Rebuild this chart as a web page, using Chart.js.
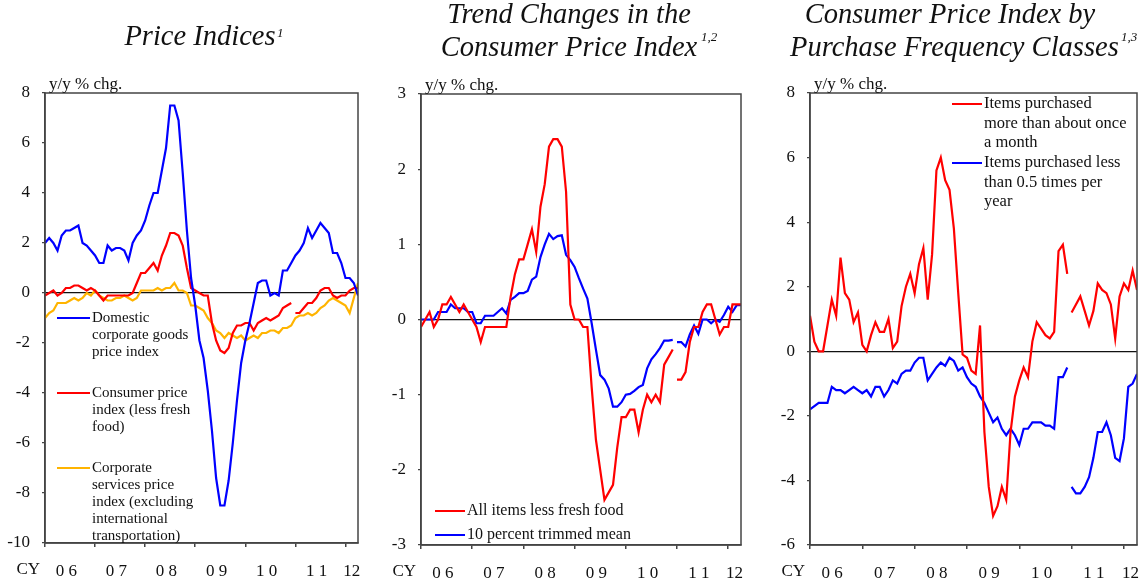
<!DOCTYPE html>
<html>
<head>
<meta charset="utf-8">
<script src="https://cdn.jsdelivr.net/npm/chart.js@4.4.1/dist/chart.umd.min.js"></script>
<style>
  body { margin: 0; background: #fff; }
  #wrap { position: relative; width: 1141px; height: 581px; overflow: hidden; background: #fff; }
  canvas { position: absolute; top: 0; }
  .title { position: absolute; font-family: 'Liberation Serif', serif; font-style: italic; font-size: 28.5px; line-height: 33px; text-align: center; color: #111; white-space: nowrap; }
  .sup { position: absolute; font-family: 'Liberation Serif', serif; font-style: italic; font-size: 13px; color: #111; }
</style>
</head>
<body>
<div id="wrap">
  <canvas id="c1" width="380" height="581" style="left:0"></canvas>
  <canvas id="c2" width="380" height="581" style="left:380px"></canvas>
  <canvas id="c3" width="381" height="581" style="left:760px"></canvas>

  <div class="title" style="left:50px; top:19px; width:300px;">Price Indices</div>
  <span class="sup" style="left:277px; top:25px;">1</span>
  <div class="title" style="left:419px; top:-3px; width:300px;">Trend Changes in the<br>Consumer Price Index</div>
  <span class="sup" style="left:701px; top:29px;">1,2</span>
  <div class="title" style="left:790px; top:-3px; width:320px;">Consumer Price Index by<br>Purchase Frequency Classes</div>
  <span class="sup" style="left:1121px; top:29px;">1,3</span>
</div>
<script>
// months since Jan 2006 (0 = 2006/1 ... 75 = 2012/4)
const months = Array.from({ length: 76 }, (_, i) => i);
const yearTicks = [0, 12, 24, 36, 48, 60, 72];
const yearLabelPos = [5.1, 17.1, 29.1, 41.1, 53.1, 65.1, 73.5];
const yearLabels = ['0 6', '0 7', '0 8', '0 9', '1 0', '1 1', '12'];
// CPI based series are re-based from Jan 2011: no line between Dec 2010 and Jan 2011
const rebaseAfter = 59;

// Panel 1: Price Indices
const cgpi = [2.0, 2.2, 2.0, 1.7, 2.3, 2.5, 2.5, 2.6, 2.7, 2.0, 1.9, 1.7, 1.5, 1.2, 1.2, 1.9, 1.7, 1.8, 1.8, 1.7,
  1.3, 2.0, 2.3, 2.5, 2.9, 3.5, 4.0, 4.0, 4.9, 5.8, 7.5, 7.5, 6.9, 4.8, 2.5, 0.6, -0.5, -1.9, -2.6, -3.9,
  -5.5, -7.4, -8.5, -8.5, -7.5, -6.0, -4.3, -2.8, -1.9, -1.2, -0.4, 0.4, 0.5, 0.5, -0.1, 0.0, -0.1, 0.9, 0.9, 1.2,
  1.5, 1.7, 2.0, 2.6, 2.2, 2.5, 2.8, 2.6, 2.4, 1.6, 1.6, 1.2, 0.6, 0.6, 0.4, -0.1];
const cpiCore1 = [-0.1, 0.0, 0.1, -0.1, 0.0, 0.2, 0.2, 0.3, 0.3, 0.2, 0.1, 0.2, 0.1, -0.1, -0.3, -0.1, -0.1, -0.1, -0.1, -0.1,
  -0.1, 0.0, 0.4, 0.8, 0.8, 1.0, 1.2, 0.9, 1.5, 1.9, 2.4, 2.4, 2.3, 1.9, 1.0, 0.2, 0.1, 0.0, -0.1, -0.1,
  -1.2, -1.9, -2.3, -2.4, -2.2, -1.6, -1.3, -1.3, -1.2, -1.2, -1.5, -1.2, -1.1, -1.0, -1.1, -1.0, -0.9, -0.6, -0.5, -0.4,
  -0.8, -0.8, -0.6, -0.4, -0.4, -0.2, 0.1, 0.2, 0.2, -0.1, -0.2, -0.1, -0.1, 0.1, 0.2, 0.2];
const cspi = [-1.0, -0.8, -0.7, -0.4, -0.4, -0.4, -0.3, -0.2, -0.3, -0.2, 0.0, -0.1, 0.1, -0.1, -0.2, -0.3, -0.3, -0.2, -0.2, -0.1,
  -0.2, -0.3, -0.2, 0.1, 0.1, 0.1, 0.1, 0.2, 0.1, 0.2, 0.2, 0.4, 0.1, 0.1, 0.0, -0.5, -0.5, -0.6, -0.7, -1.0,
  -1.2, -1.5, -1.6, -1.8, -1.6, -1.7, -1.8, -1.7, -1.9, -1.8, -1.7, -1.8, -1.6, -1.6, -1.5, -1.5, -1.6, -1.4, -1.4, -1.3,
  -1.0, -0.9, -0.9, -0.8, -0.9, -0.8, -0.6, -0.5, -0.3, -0.2, -0.3, -0.4, -0.5, -0.8, -0.2, 0.4];
const p1Legend = [
  ['Domestic', 'corporate goods', 'price index'],
  ['Consumer price', 'index (less fresh', 'food)'],
  ['Corporate', 'services price', 'index (excluding', 'international', 'transportation)']
];

// Panel 2: Trend changes in the CPI
const cpiCore2 = [-0.1, 0.0, 0.1, -0.1, 0.0, 0.2, 0.2, 0.3, 0.2, 0.1, 0.2, 0.1, 0.0, -0.1, -0.3, -0.1, -0.1, -0.1, -0.1, -0.1,
  -0.1, 0.3, 0.6, 0.8, 0.8, 1.0, 1.2, 0.9, 1.5, 1.8, 2.3, 2.4, 2.4, 2.3, 1.7, 0.2, 0.0, 0.0, -0.1, -0.1,
  -0.9, -1.6, -2.0, -2.4, -2.3, -2.2, -1.7, -1.3, -1.3, -1.2, -1.2, -1.5, -1.2, -1.0, -1.1, -1.0, -1.1, -0.6, -0.5, -0.4,
  -0.8, -0.8, -0.7, -0.3, -0.1, -0.1, 0.1, 0.2, 0.2, 0.0, -0.2, -0.1, -0.1, 0.2, 0.2, 0.2];
const trimmedMean = [0.0, 0.0, 0.0, 0.0, 0.1, 0.1, 0.1, 0.2, 0.15, 0.15, 0.15, 0.1, 0.1, -0.05, -0.05, 0.05, 0.05, 0.05, 0.1, 0.15,
  0.08, 0.26, 0.3, 0.35, 0.35, 0.38, 0.53, 0.57, 0.83, 1.0, 1.14, 1.07, 1.11, 1.12, 0.86, 0.79, 0.7, 0.55, 0.41, 0.28,
  -0.05, -0.4, -0.74, -0.8, -0.92, -1.16, -1.16, -1.1, -1.0, -0.99, -0.95, -0.9, -0.87, -0.65, -0.53, -0.46, -0.38, -0.28, -0.28, -0.27,
  -0.3, -0.3, -0.36, -0.2, -0.08, -0.19, 0.0, 0.0, -0.05, 0.0, -0.03, 0.06, 0.17, 0.1, 0.19, 0.19];
const p2Legend = [['All items less fresh food'], ['10 percent trimmed mean']];

// Panel 3: CPI by purchase frequency classes
const frequentItems = [1.1, 0.3, 0.0, 0.0, 0.8, 1.6, 1.1, 2.9, 1.8, 1.6, 0.9, 1.2, 0.2, 0.0, 0.5, 0.9, 0.6, 0.6, 1.0, 0.1,
  0.3, 1.4, 2.0, 2.4, 1.8, 2.7, 3.2, 1.6, 3.0, 5.6, 6.0, 5.3, 5.0, 3.8, 1.8, -0.1, -0.2, -0.6, -0.7, 0.8,
  -2.5, -4.2, -5.1, -4.8, -4.2, -4.6, -2.5, -1.4, -0.9, -0.5, -0.8, 0.3, 0.9, 0.7, 0.5, 0.4, 0.6, 3.1, 3.3, 2.4,
  1.2, 1.45, 1.7, 1.25, 0.8, 1.25, 2.1, 1.9, 1.8, 1.45, 0.4, 1.7, 2.1, 1.9, 2.5, 1.9];
const infrequentItems = [-1.8, -1.7, -1.6, -1.6, -1.6, -1.1, -1.2, -1.2, -1.3, -1.2, -1.1, -1.2, -1.3, -1.2, -1.4, -1.1, -1.1, -1.4, -1.2, -0.9,
  -1.0, -0.7, -0.6, -0.6, -0.35, -0.2, -0.2, -0.9, -0.7, -0.5, -0.35, -0.45, -0.2, -0.3, -0.6, -0.5, -0.8, -1.0, -1.1, -1.4,
  -1.6, -1.9, -2.2, -2.05, -2.4, -2.6, -2.4, -2.6, -2.9, -2.4, -2.4, -2.2, -2.2, -2.2, -2.3, -2.3, -2.4, -0.8, -0.8, -0.5,
  -4.2, -4.4, -4.4, -4.2, -3.9, -3.3, -2.5, -2.5, -2.2, -2.6, -3.3, -3.4, -2.7, -1.1, -1.0, -0.7];
const p3Legend = [
  ['Items purchased', 'more than about once', 'a month'],
  ['Items purchased less', 'than 0.5 times per', 'year']
];

const RED = '#ff0000';
const BLUE = '#0000ff';
const ORANGE = '#ffb400';
const AXIS = '#444';
const SERIF = "'Liberation Serif', 'Times New Roman', serif";

// frame, unit label, "CY" and the in-plot legend
const panelDecor = {
  id: 'panelDecor',
  afterDraw(chart, args, opts) {
    const { ctx, chartArea: a } = chart;
    ctx.save();
    ctx.strokeStyle = AXIS;
    ctx.lineWidth = 1.5;
    ctx.strokeRect(a.left, a.top, a.right - a.left, a.bottom - a.top);

    ctx.fillStyle = '#111';
    ctx.font = '17px ' + SERIF;
    ctx.textAlign = 'left';
    ctx.textBaseline = 'alphabetic';
    ctx.fillText('y/y % chg.', a.left + 4, a.top - 4);

    ctx.textAlign = 'right';
    ctx.textBaseline = 'middle';
    ctx.fillText('CY', a.left - 5, a.bottom + 27);

    const lg = opts.legend;
    ctx.font = lg.font + 'px ' + SERIF;
    ctx.textAlign = 'left';
    chart.data.datasets.forEach((ds, i) => {
      const y = lg.y[i];
      ctx.strokeStyle = ds.borderColor;
      ctx.lineWidth = 2;
      ctx.beginPath();
      ctx.moveTo(lg.x0, y);
      ctx.lineTo(lg.x1, y);
      ctx.stroke();
      ds.legendLines.forEach((line, k) => {
        ctx.fillText(line, lg.x1 + 2, y + k * lg.lineHeight);
      });
    });
    ctx.restore();
  }
};

function makeDataset(lines, values, color, rebased) {
  return {
    label: lines.join(' '),
    legendLines: lines,
    data: values,
    borderColor: color,
    borderWidth: 2.2,
    pointRadius: 0,
    tension: 0,
    segment: rebased ? { borderColor: c => (c.p0DataIndex === rebaseAfter ? 'rgba(0,0,0,0)' : undefined) } : undefined
  };
}

function makeChart(id, box, yMin, yMax, yStep, datasets, legend) {
  const canvas = document.getElementById(id);
  return new Chart(canvas, {
    type: 'line',
    data: { labels: months, datasets },
    options: {
      responsive: false,
      animation: false,
      layout: { padding: { left: 0, top: box.top, right: canvas.width - box.right, bottom: 0 } },
      plugins: {
        legend: { display: false },
        tooltip: { enabled: false },
        panelDecor: { legend }
      },
      scales: {
        x: {
          type: 'linear',
          min: 0,
          max: 75,
          afterBuildTicks: axis => {
            axis.ticks = yearTicks.concat(yearLabelPos).sort((p, q) => p - q).map(v => ({ value: v }));
          },
          afterFit: axis => {
            axis.height = canvas.height - box.bottom;
            axis.paddingLeft = 0;
            axis.paddingRight = 0;
          },
          ticks: {
            autoSkip: false,
            maxRotation: 0,
            padding: 14,
            color: '#111',
            font: { family: SERIF, size: 17 },
            callback: v => {
              const k = yearLabelPos.indexOf(v);
              return k >= 0 ? yearLabels[k] : '';
            }
          },
          grid: {
            drawOnChartArea: false,
            tickLength: 4,
            lineWidth: 1.5,
            tickColor: c => (yearTicks.includes(c.tick.value) ? AXIS : 'rgba(0,0,0,0)')
          },
          border: { color: AXIS, width: 1.5 }
        },
        y: {
          min: yMin,
          max: yMax,
          afterFit: axis => { axis.width = box.left; },
          ticks: {
            stepSize: yStep,
            padding: 12,
            color: '#111',
            font: { family: SERIF, size: 17 }
          },
          grid: {
            tickLength: 3,
            lineWidth: 1.2,
            tickColor: AXIS,
            color: c => (c.tick.value === 0 ? '#111' : 'rgba(0,0,0,0)')
          },
          border: { color: AXIS, width: 1.5 }
        }
      }
    },
    plugins: [panelDecor]
  });
}

makeChart('c1', { left: 45, right: 358, top: 93, bottom: 543 }, -10, 8, 2, [
  makeDataset(p1Legend[0], cgpi, BLUE, false),
  makeDataset(p1Legend[1], cpiCore1, RED, true),
  makeDataset(p1Legend[2], cspi, ORANGE, false)
], { x0: 57, x1: 90, y: [318, 393, 468], lineHeight: 17, font: 15 });

makeChart('c2', { left: 41, right: 361, top: 94, bottom: 545 }, -3, 3, 1, [
  makeDataset(p2Legend[0], cpiCore2, RED, true),
  makeDataset(p2Legend[1], trimmedMean, BLUE, true)
], { x0: 55, x1: 85, y: [511, 535], lineHeight: 20, font: 16 });

makeChart('c3', { left: 50, right: 377, top: 93, bottom: 545 }, -6, 8, 2, [
  makeDataset(p3Legend[0], frequentItems, RED, true),
  makeDataset(p3Legend[1], infrequentItems, BLUE, true)
], { x0: 192, x1: 222, y: [104, 163], lineHeight: 19.5, font: 16.5 });
</script>
</body>
</html>
